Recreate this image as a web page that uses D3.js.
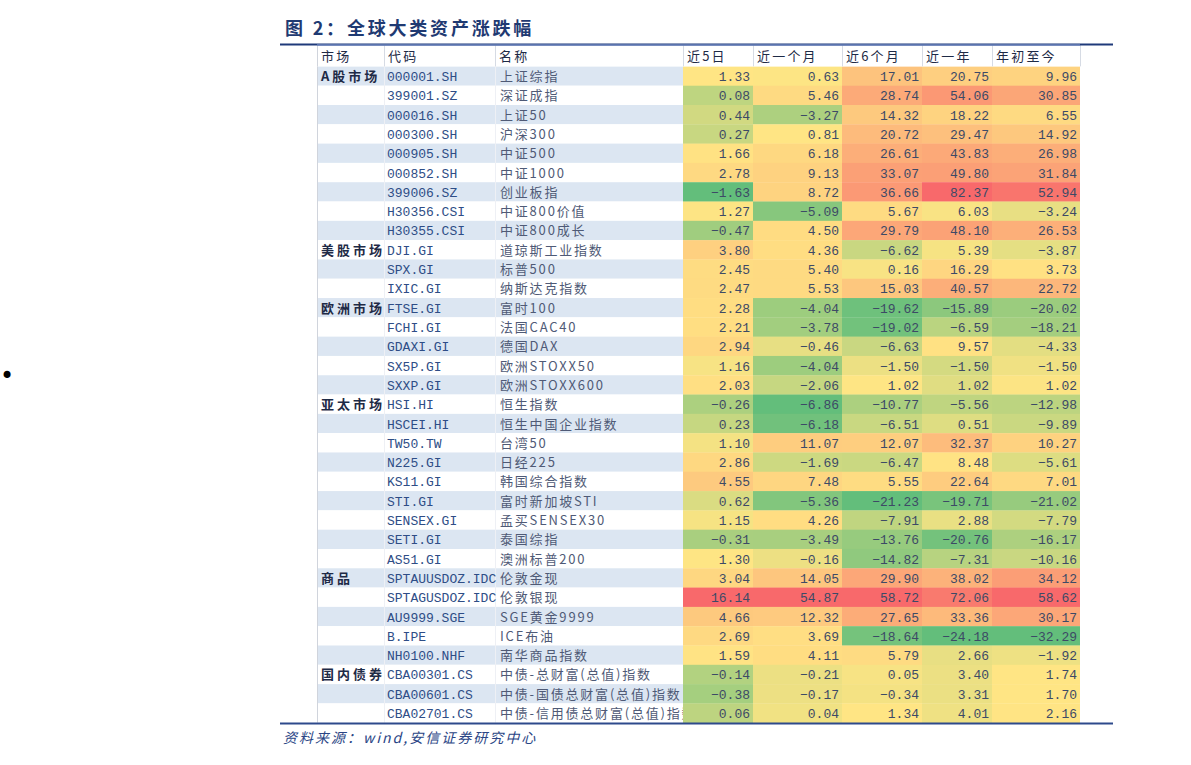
<!DOCTYPE html>
<html><head><meta charset="utf-8">
<script src="https://cdn.jsdelivr.net/npm/d3@7"></script>
<style>
html,body{margin:0;padding:0;background:#fff;}
svg{display:block;}
</style></head>
<body>
<svg id="chart" width="1191" height="765"></svg>
<script>
// ---------- data ----------
const title = "图 2：全球大类资产涨跌幅";
const source = "资料来源：wind,安信证券研究中心";
const headers = ["市场","代码","名称","近5日","近一个月","近6个月","近一年","年初至今"];
const markets = ["A股市场","","","","","","","","",
  "美股市场","","",
  "欧洲市场","","","","",
  "亚太市场","","","","","","","","",
  "商品","","","","",
  "国内债券","",""];
const codes = ["000001.SH","399001.SZ","000016.SH","000300.SH","000905.SH","000852.SH","399006.SZ","H30356.CSI","H30355.CSI",
  "DJI.GI","SPX.GI","IXIC.GI",
  "FTSE.GI","FCHI.GI","GDAXI.GI","SX5P.GI","SXXP.GI",
  "HSI.HI","HSCEI.HI","TW50.TW","N225.GI","KS11.GI","STI.GI","SENSEX.GI","SETI.GI","AS51.GI",
  "SPTAUUSDOZ.IDC","SPTAGUSDOZ.IDC","AU9999.SGE","B.IPE","NH0100.NHF",
  "CBA00301.CS","CBA00601.CS","CBA02701.CS"];
const names = ["上证综指","深证成指","上证50","沪深300","中证500","中证1000","创业板指","中证800价值","中证800成长",
  "道琼斯工业指数","标普500","纳斯达克指数",
  "富时100","法国CAC40","德国DAX","欧洲STOXX50","欧洲STOXX600",
  "恒生指数","恒生中国企业指数","台湾50","日经225","韩国综合指数","富时新加坡STI","孟买SENSEX30","泰国综指","澳洲标普200",
  "伦敦金现","伦敦银现","SGE黄金9999","ICE布油","南华商品指数",
  "中债-总财富(总值)指数","中债-国债总财富(总值)指数","中债-信用债总财富(总值)指数"];
const d5 = [1.33,0.08,0.44,0.27,1.66,2.78,-1.63,1.27,-0.47,
  3.80,2.45,2.47,
  2.28,2.21,2.94,1.16,2.03,
  -0.26,0.23,1.10,2.86,4.55,0.62,1.15,-0.31,1.30,
  3.04,16.14,4.66,2.69,1.59,
  -0.14,-0.38,0.06];
const m1 = [0.63,5.46,-3.27,0.81,6.18,9.13,8.72,-5.09,4.50,
  4.36,5.40,5.53,
  -4.04,-3.78,-0.46,-4.04,-2.06,
  -6.86,-6.18,11.07,-1.69,7.48,-5.36,4.26,-3.49,-0.16,
  14.05,54.87,12.32,3.69,4.11,
  -0.21,-0.17,0.04];
const m6 = [17.01,28.74,14.32,20.72,26.61,33.07,36.66,5.67,29.79,
  -6.62,0.16,15.03,
  -19.62,-19.02,-6.63,-1.50,1.02,
  -10.77,-6.51,12.07,-6.47,5.55,-21.23,-7.91,-13.76,-14.82,
  29.90,58.72,27.65,-18.64,5.79,
  0.05,-0.34,1.34];
const y1 = [20.75,54.06,18.22,29.47,43.83,49.80,82.37,6.03,48.10,
  5.39,16.29,40.57,
  -15.89,-6.59,9.57,-1.50,1.02,
  -5.56,0.51,32.37,8.48,22.64,-19.71,2.88,-20.76,-7.31,
  38.02,72.06,33.36,-24.18,2.66,
  3.40,3.31,4.01];
const ytd = [9.96,30.85,6.55,14.92,26.98,31.84,52.94,-3.24,26.53,
  -3.87,3.73,22.72,
  -20.02,-18.21,-4.33,-1.50,1.02,
  -12.98,-9.89,10.27,-5.61,7.01,-21.02,-7.79,-16.17,-10.16,
  34.12,58.62,30.17,-32.29,-1.92,
  1.74,1.70,2.16];
const series = [d5, m1, m6, y1, ytd];

// ---------- layout ----------
const svg = d3.select("#chart");
const colEdges = [317, 384, 495, 683, 753, 842, 922, 992, 1080];
const headerTop = 45, bodyTop = 66.4, bodyBottom = 722.7;
const nRows = codes.length;
const y = d3.scaleBand().domain(d3.range(nRows)).range([bodyTop, bodyBottom]);
const colX = d3.scaleOrdinal().domain(d3.range(colEdges.length)).range(colEdges);
const fmt = d3.format(".2f");
const cjk = "'Noto Sans CJK SC','Noto Sans',sans-serif";
const mono = "'Liberation Mono','DejaVu Sans Mono',monospace";

// bullet
svg.append("text").attr("x", 0).attr("y", 384).attr("font-size", 24)
  .attr("font-family", "'DejaVu Sans',sans-serif").attr("fill", "#000").text("•");

// title
svg.append("text").attr("x", 285).attr("y", 35)
  .attr("font-family", cjk).attr("font-size", 18).attr("font-weight", "bold")
  .attr("letter-spacing", 2.8).attr("fill", "#1F3A72").text(title);

// stripes for the text columns
const body = svg.append("g");
body.selectAll("rect.stripe").data(d3.range(nRows)).join("rect")
  .attr("class", "stripe")
  .attr("x", colX(0)).attr("width", colX(3) - colX(0))
  .attr("y", i => y(i)).attr("height", y.bandwidth())
  .attr("fill", i => i % 2 === 0 ? "#DCE6F2" : "#FFFFFF");

// vertical separators in text area
body.selectAll("line.vsep").data([0, 1, 2]).join("line")
  .attr("x1", i => colX(i) + 0.5).attr("x2", i => colX(i) + 0.5)
  .attr("y1", headerTop).attr("y2", bodyBottom)
  .attr("stroke", i => i === 0 ? "#D0D4DC" : "#FFFFFF").attr("stroke-width", 1);
body.selectAll("line.vsep2").data([1, 2]).join("line")
  .attr("x1", i => colX(i) + 0.5).attr("x2", i => colX(i) + 0.5)
  .attr("y1", headerTop).attr("y2", bodyBottom)
  .attr("stroke", "#E2E6EE").attr("stroke-width", 1).attr("stroke-opacity", 0.6);

// market, code, name texts
body.selectAll("text.mkt").data(markets).join("text")
  .attr("x", colX(0) + 4).attr("y", (d, i) => y(i) + y.bandwidth() / 2 + 5)
  .attr("font-family", cjk).attr("font-size", 13).attr("font-weight", "bold")
  .attr("letter-spacing", 3).attr("fill", "#1E2A46").text(d => d);
body.selectAll("text.code").data(codes).join("text")
  .attr("x", colX(1) + 3).attr("y", (d, i) => y(i) + y.bandwidth() / 2 + 5)
  .attr("font-family", mono).attr("font-size", 13)
  .attr("fill", "#2E4D86").text(d => d);
body.selectAll("text.name").data(names).join("text")
  .attr("x", colX(2) + 5).attr("y", (d, i) => y(i) + y.bandwidth() / 2 + 5)
  .attr("font-family", cjk).attr("font-size", 13).attr("letter-spacing", 1.8)
  .attr("fill", "#4F5A76").text(d => d);

// heatmap cells
series.forEach((vals, c) => {
  const sorted = vals.slice().sort(d3.ascending);
  const color = d3.scaleLinear()
    .domain([d3.min(vals), d3.quantileSorted(sorted, 0.5), d3.max(vals)])
    .range(["#63BE7B", "#FFE584", "#F8696B"]);
  const x0 = colX(3 + c), x1 = colX(4 + c);
  const g = svg.append("g");
  g.selectAll("rect").data(vals).join("rect")
    .attr("x", x0).attr("width", x1 - x0)
    .attr("y", (d, i) => y(i)).attr("height", y.bandwidth() + 0.3)
    .attr("fill", d => color(d));
  g.selectAll("text").data(vals).join("text")
    .attr("x", x1 - 3).attr("y", (d, i) => y(i) + y.bandwidth() / 2 + 5)
    .attr("text-anchor", "end")
    .attr("font-family", mono).attr("font-size", 13)
    .attr("fill", "#3D4A66").text(d => fmt(d));
});

// header row
const hdr = svg.append("g");
hdr.append("rect").attr("x", colX(0)).attr("y", headerTop)
  .attr("width", colX(8) - colX(0)).attr("height", bodyTop - headerTop).attr("fill", "#fff");
hdr.selectAll("line").data(d3.range(1, 8)).join("line")
  .attr("x1", i => colX(i) + 0.5).attr("x2", i => colX(i) + 0.5)
  .attr("y1", headerTop).attr("y2", bodyTop)
  .attr("stroke", "#D6DBE4");
hdr.append("line").attr("x1", colX(0) + 0.5).attr("x2", colX(0) + 0.5)
  .attr("y1", headerTop).attr("y2", bodyTop).attr("stroke", "#D0D4DC");
hdr.append("line").attr("x1", colX(8) + 0.5).attr("x2", colX(8) + 0.5)
  .attr("y1", headerTop).attr("y2", bodyTop).attr("stroke", "#D6DBE4");
hdr.selectAll("text").data(headers).join("text")
  .attr("x", (d, i) => colX(i) + 4).attr("y", bodyTop - 5)
  .attr("font-family", cjk).attr("font-size", 13).attr("letter-spacing", 2.2)
  .attr("fill", "#1E2A46").text(d => d);

// top rule
svg.append("line").attr("x1", 280).attr("x2", 1113).attr("y1", 44.5).attr("y2", 44.5)
  .attr("stroke", "#1F3A7A").attr("stroke-width", 2);
svg.append("line").attr("x1", colX(0)).attr("x2", colX(8)).attr("y1", 45).attr("y2", 45)
  .attr("stroke", "#6F87BF").attr("stroke-width", 1.5);

// bottom rule
svg.append("line").attr("x1", 280).attr("x2", 1113).attr("y1", 723.5).attr("y2", 723.5)
  .attr("stroke", "#2E4A8C").attr("stroke-width", 2);

// source
svg.append("text").attr("x", 283).attr("y", 743)
  .attr("font-family", cjk).attr("font-size", 14).attr("font-style", "italic")
  .attr("fill", "#2A4585").attr("letter-spacing", 2).text(source);
</script>
</body></html>
